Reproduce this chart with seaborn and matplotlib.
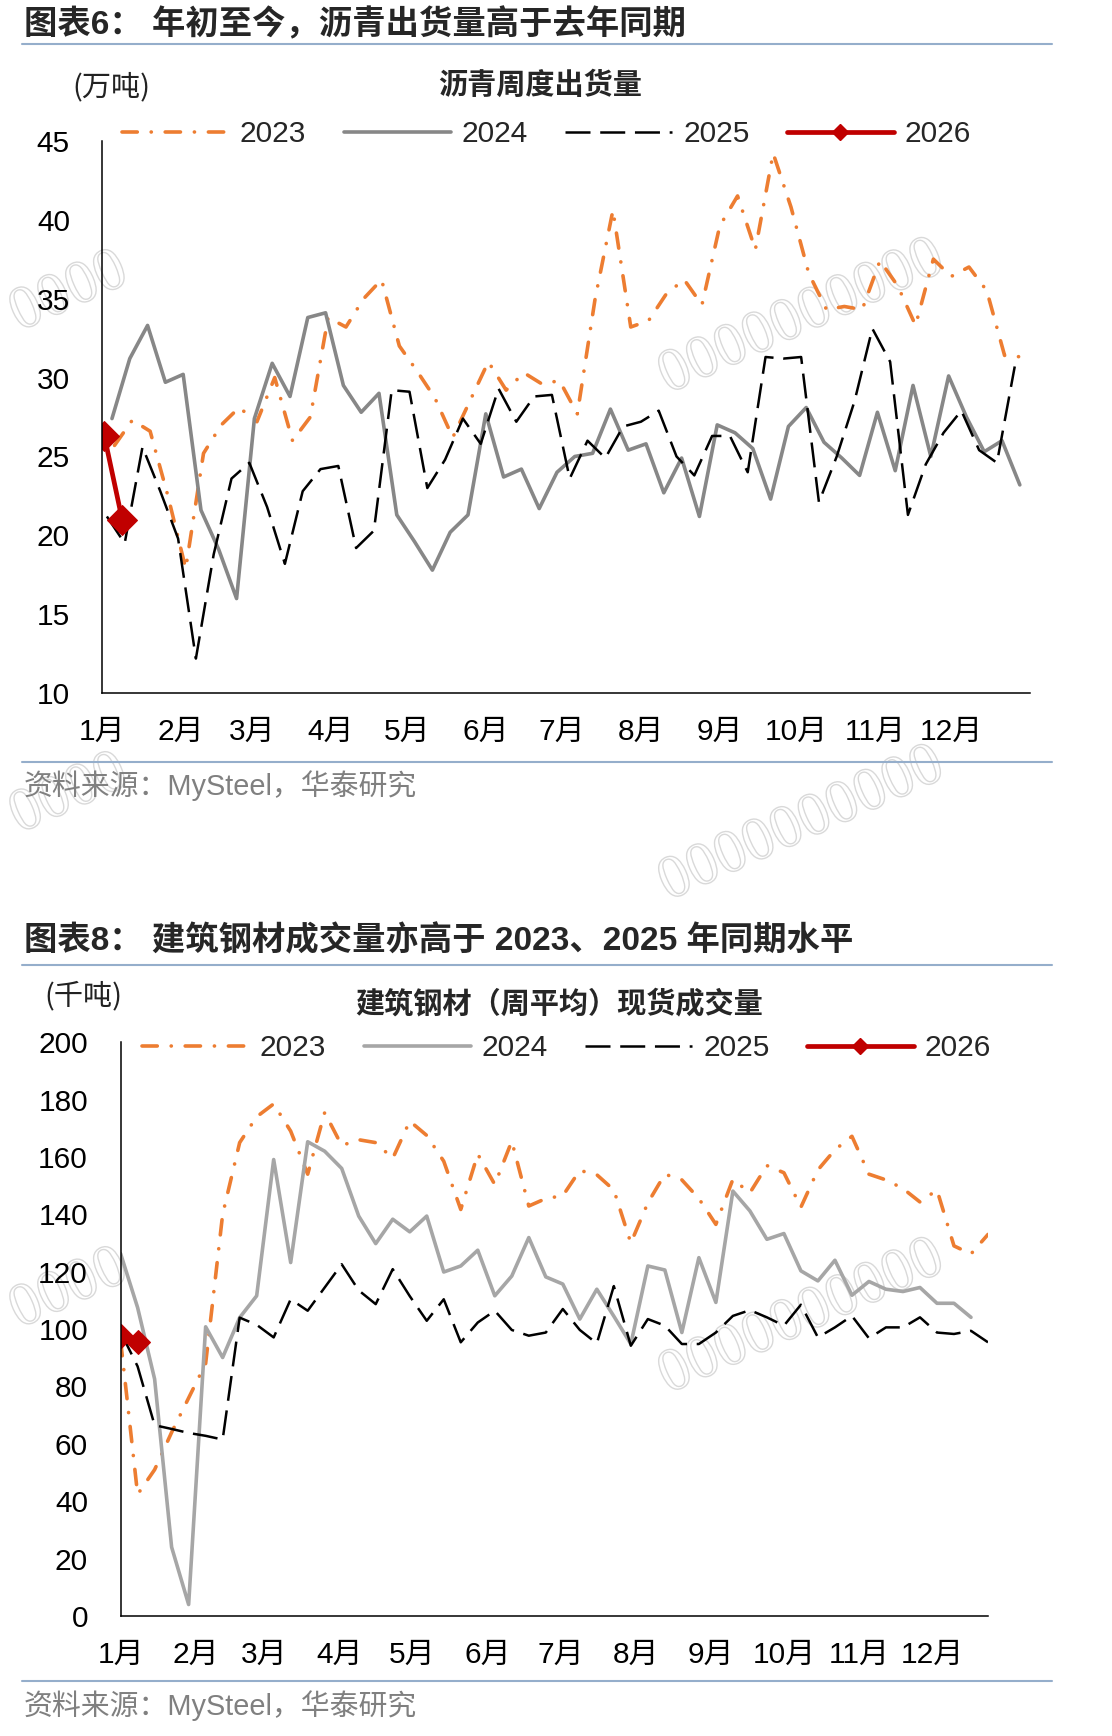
import pandas as pd
import matplotlib
matplotlib.use("Agg")
import matplotlib.pyplot as plt
import matplotlib.patheffects as pe
from matplotlib.lines import Line2D
import seaborn as sns

# ---------- 图表6：沥青周度出货量（万吨），周度 ----------
asphalt_start = {"2023": "2023-01-06", "2024": "2024-01-05",
                 "2025": "2025-01-03", "2026": "2026-01-02"}
asphalt_2023 = [25.7, 27.3, 26.6, 22.5, 17.9, 25.2, 27.0, 28.1, 27.2, 30.0,
                26.0, 27.5, 33.8, 33.2, 35.0, 36.2, 32.0, 30.4, 28.7, 26.2,
                28.6, 31.0, 29.2, 30.3, 29.6, 29.8, 27.7, 35.0, 40.6, 33.2,
                33.6, 35.3, 36.2, 34.6, 39.6, 41.5, 38.1, 44.2, 40.8, 36.6,
                34.3, 34.5, 34.3, 37.4, 35.8, 33.3, 37.5, 36.4, 37.0, 35.5,
                31.4, 31.3]
asphalt_2024 = [27.4, 31.2, 33.3, 29.7, 30.2, 21.6, 19.1, 16.0, 27.4, 30.9,
                28.8, 33.8, 34.1, 29.5, 27.8, 29.0, 21.3, 19.6, 17.8, 20.2,
                21.3, 27.7, 23.7, 24.2, 21.7, 24.0, 25.0, 25.2, 28.0, 25.4,
                25.8, 22.7, 24.9, 21.2, 27.0, 26.5, 25.5, 22.3, 26.9, 28.1,
                25.9, 24.9, 23.8, 27.8, 24.1, 29.5, 25.0, 30.1, 27.5, 25.3,
                26.0, 23.2]
asphalt_2025 = [21.2, 19.5, 25.6, 22.8, 19.8, 12.2, 18.8, 23.6, 24.6, 21.8,
                18.2, 22.8, 24.2, 24.4, 19.2, 20.3, 29.2, 29.1, 23.0, 24.8,
                27.4, 25.8, 29.3, 27.2, 28.8, 28.9, 23.6, 26.0, 24.9, 26.9,
                27.2, 27.9, 25.0, 23.8, 26.3, 26.3, 24.0, 31.3, 31.2, 31.3,
                22.1, 25.0, 28.5, 33.1, 31.0, 21.3, 24.5, 26.5, 27.9, 25.4,
                24.6, 30.7]
asphalt_2026 = [26.3, 21.0]

# ---------- 图表8：建筑钢材（周平均）现货成交量（千吨） ----------
steel_start = {"2023": "2023-01-01", "2024": "2024-01-01",
               "2025": "2025-01-01", "2026": "2026-01-01"}
steel_2023 = [96, 42.4, 51, 64, 76, 88, 140, 165, 174, 178.5,
              169, 154, 175.5, 164, 166, 165, 159.5, 172.5, 167.5, 158.5,
              141.7, 161, 150.4, 165.5, 142.9, 145.5, 146.5, 155.3, 153.8, 148.5,
              130, 144, 154, 152, 145.5, 136.5, 152.2, 147.5, 157, 154.5,
              142.5, 155.5, 162.5, 167.2, 154, 152, 149, 144.3, 148.5, 129,
              126.2, 133]
steel_2024 = [126.3, 107.5, 82.6, 24, 4, 100.8, 90.1, 104, 111.6, 159.1,
              123.2, 165.3, 162, 156, 139.4, 129.8, 138.3, 133.9, 139.4, 119.9,
              122, 127.5, 111.6, 118.5, 131.9, 118.2, 115.7, 103.5, 113.9, 104.5,
              94.8, 122, 120.6, 98.8, 124.9, 109.3, 148.1, 141.2, 131.3, 133.3,
              120.3, 116.8, 124, 111.8, 116.6, 113.9, 113.1, 114.5, 109, 109,
              104.1]
steel_2025 = [99, 87, 66.5, 65.2, 63.8, 62.8, 61.5, 104, 101.5, 97.1,
              110.4, 106.4, 114.5, 122.6, 113.5, 108.7, 120.9, 111.5, 102.9, 110.4,
              95.4, 102.3, 106.4, 99.7, 97.7, 98.8, 107, 99.7, 95, 115,
              94.2, 103.5, 101.2, 94.8, 94.8, 98.8, 104.6, 106.6, 104.1, 101.2,
              108.5, 97.1, 100.6, 104.6, 96.8, 100.6, 100.6, 104.1, 98.8, 98.3,
              99.4, 95.4]
steel_2026 = [97.7, 95.4]

month_labels = ["1月", "2月", "3月", "4月", "5月", "6月",
                "7月", "8月", "9月", "10月", "11月", "12月"]
years = ["2023", "2024", "2025", "2026"]

sns.set_style("white")
plt.rcParams["font.family"] = ["Liberation Sans", "Noto Sans CJK SC"]
plt.rcParams["lines.scale_dashes"] = False

W, H = 1112, 1736
fig = plt.figure(figsize=(W / 100, H / 100), dpi=100)


def fx(px):
    return px / W


def fy(py):
    return 1 - py / H


def weekly(start, values):
    d = pd.date_range(start, periods=len(values), freq="7D")
    return pd.DataFrame({"day": (d - pd.Timestamp(d[0].year, 1, 1)).days,
                         "value": values})


month_days = list(pd.date_range("2023-01-01", periods=12, freq="MS").dayofyear - 1)

ORANGE, RED = "#ED7D31", "#C00000"
dashdot = (0, (11, 10, 0.1, 10))
dashed = (0, (18, 7))
TICK_FS = 21.5


def styles(gray, ms):
    return {
        "2023": dict(color=ORANGE, lw=2.6, ls=dashdot, dash_capstyle="round", dash_joinstyle="round"),
        "2024": dict(color=gray, lw=2.6, ls="-", solid_joinstyle="round"),
        "2025": dict(color="black", lw=1.8, ls=dashed, dash_joinstyle="round"),
        "2026": dict(color=RED, lw=3.4, ls="-", marker="D", markersize=ms,
                     markeredgecolor=RED, markerfacecolor=RED, solid_joinstyle="round"),
    }


def draw(ax, series, starts, st):
    for y, vals in zip(years, series):
        df = weekly(starts[y], vals)
        sns.lineplot(data=df, x="day", y="value", ax=ax, sort=False,
                     estimator=None, **st[y])
    if ax.get_legend():
        ax.get_legend().remove()
    ax.patch.set_alpha(0)
    ax.set_xlabel("")
    ax.set_ylabel("")
    for s in ["top", "right"]:
        ax.spines[s].set_visible(False)
    for s in ["left", "bottom"]:
        ax.spines[s].set_color("black")
        ax.spines[s].set_linewidth(1.1)
    ax.tick_params(axis="both", direction="out", color="black", width=1.1,
                   labelsize=TICK_FS, labelcolor="black")
    ax.tick_params(axis="x", length=5.8, pad=12)
    ax.tick_params(axis="y", length=6.9, pad=16)


def legend(st, x, y):
    handles = []
    for yr in years:
        kw = dict(st[yr])
        if "markersize" in kw:
            kw["markersize"] = 8
        handles.append(Line2D([0], [0], **kw))
    fig.legend(handles, years, loc="center left", bbox_to_anchor=(fx(x), fy(y)),
               ncol=4, frameon=False, handlelength=3.58, handletextpad=0.37,
               columnspacing=1.25, borderpad=0, borderaxespad=0,
               prop={"family": "Liberation Sans", "size": TICK_FS})


cjk = ["Liberation Sans", "Noto Sans CJK SC"]
wm_stroke = [pe.Stroke(linewidth=1.0, foreground="#d9d9d9")]

# watermarks
for wy, ly in [(318, 293), (825, 795), (1318, 1290)]:
    fig.text(fx(802), fy(wy), "0000000000", rotation=24, fontsize=44,
             family="Liberation Serif", color="none", ha="center", va="center",
             zorder=-1, path_effects=wm_stroke)
    fig.text(fx(2), fy(ly), "0000", rotation=24, fontsize=44,
             family="Liberation Serif", color="none", ha="left", va="center",
             zorder=-1, path_effects=wm_stroke)

# ---------- top chart ----------
ax1 = fig.add_axes([fx(101.8), fy(693.3), (1030 - 101.8) / W, (693.3 - 140.7) / H])
st1 = styles("#878787", 15)
draw(ax1, [asphalt_2023, asphalt_2024, asphalt_2025, asphalt_2026], asphalt_start, st1)
ax1.set_xlim(0, 365)
ax1.set_ylim(10, 45)
ax1.set_yticks(range(10, 46, 5))
ax1.set_xticks(month_days + [365])
ax1.set_xticklabels(month_labels + [""])
legend(st1, 122, 134)

fig.text(fx(24), fy(25), "图表6： 年初至今，沥青出货量高于去年同期", fontsize=24,
         weight="bold", family=cjk, ha="left", va="center")
fig.add_artist(Line2D([fx(22), fx(1052)], [fy(44), fy(44)], color="#95AECB", lw=1.5))
fig.text(fx(111), fy(87), "(万吨)", fontsize=21, family=["Noto Sans CJK SC"],
         color="#222222", ha="center", va="center")
fig.text(fx(540), fy(85), "沥青周度出货量", fontsize=21, weight="bold",
         family=["Noto Sans CJK SC"], ha="center", va="center")
fig.add_artist(Line2D([fx(22), fx(1052)], [fy(762), fy(762)], color="#95AECB", lw=1.5))
fig.text(fx(24), fy(786), "资料来源：MySteel，华泰研究", fontsize=20.8, family=cjk,
         color="#808080", ha="left", va="center")

# ---------- bottom chart ----------
ax2 = fig.add_axes([fx(120.6), fy(1616), (988 - 120.6) / W, (1616 - 1042.2) / H])
st2 = styles("#A6A6A6", 12)
draw(ax2, [steel_2023, steel_2024, steel_2025, steel_2026], steel_start, st2)
ax2.set_xlim(0, 357)
ax2.set_ylim(0, 200)
ax2.set_yticks(range(0, 201, 20))
ax2.set_xticks(month_days)
ax2.set_xticklabels(month_labels)
ax2.tick_params(axis="y", length=6.5, pad=17)
legend(st2, 142, 1048)

fig.text(fx(24), fy(941), "图表8： 建筑钢材成交量亦高于 2023、2025 年同期水平", fontsize=24,
         weight="bold", family=cjk, ha="left", va="center")
fig.add_artist(Line2D([fx(22), fx(1052)], [fy(965), fy(965)], color="#95AECB", lw=1.5))
fig.text(fx(83), fy(996), "(千吨)", fontsize=21, family=["Noto Sans CJK SC"],
         color="#222222", ha="center", va="center")
fig.text(fx(559), fy(1003), "建筑钢材（周平均）现货成交量", fontsize=21, weight="bold",
         family=["Noto Sans CJK SC"], ha="center", va="center")
fig.add_artist(Line2D([fx(22), fx(1052)], [fy(1681), fy(1681)], color="#95AECB", lw=1.5))
fig.text(fx(24), fy(1706), "资料来源：MySteel，华泰研究", fontsize=20.8, family=cjk,
         color="#808080", ha="left", va="center")

fig.savefig("out.png", dpi=100)
